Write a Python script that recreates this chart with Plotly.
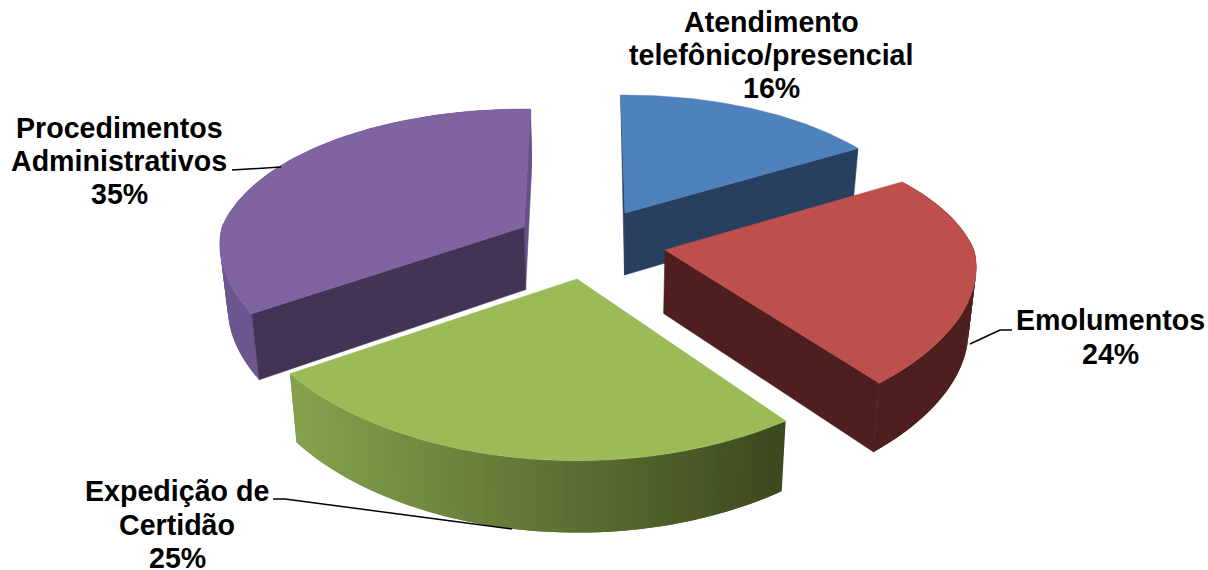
import math
import plotly.graph_objects as go

# ---- data ----
categories = ["Atendimento telefônico/presencial", "Emolumentos", "Expedição de Certidão", "Procedimentos Administrativos"]
shares = [16, 24, 25, 35]
top_colors = ["#4f81bd", "#bd4f4c", "#9bbb59", "#8064a2"]
face_colors = ["#27405f", "#4e1f1e", "#3d4a1f", "#433355"]
label_lines = [
    ["Atendimento", "telefônico/presencial", "16%"],
    ["Emolumentos", "24%"],
    ["Expedição de", "Certidão", "25%"],
    ["Procedimentos", "Administrativos", "35%"],
]

# ---- geometry / style of the projected pie ----
W, H = 1208, 570
APEX = [(625, 213), (665, 250), (577, 279), (524, 227)]
SLICE_RX = [296, 309, 328, 302]
START_ADJ = [-1, 0.4, 1, 3.5]
END_ADJ = [2.4, -3, 0.5, 1.5]
LABEL_POS = [(771, 22, 33), (1110, 320, 34), (177, 491, 33.5), (119, 128, 33)]
LEADERS = [None,
           [(970, 344), (1000, 330), (1012, 330)],
           [(273, 499), (285, 499), (512, 529)],
           [(232, 170), (250, 169), (281, 167)]]
A, K, KX_BACK, KX_FRONT = 143, 0.213, 0.2, 0.12
VX = 600
N = 90
GREEN_L, GREEN_R = (134, 162, 78), (60, 72, 30)
PURPLE_WALL = "#6d5690"
SLIVER = "#67508a"


def project(theta, ax, ay, rx):
    t = math.radians(theta)
    X, Y = math.sin(t), math.cos(t)
    kx = KX_BACK if Y > 0 else KX_FRONT
    return ax + rx * X / (1 + kx * Y), ay - A * Y / (1 + K * Y)


def drop(p):
    x, y = p
    return x + (VX - x) * 0.021, y + 62 + (y - 213) * 0.04


def lerp(c1, c2, f):
    return "rgb(%d,%d,%d)" % tuple(round(a + (b - a) * f) for a, b in zip(c1, c2))


def poly(fig, pts, color, lw=0.6):
    fig.add_trace(go.Scatter(
        x=[p[0] for p in pts] + [pts[0][0]], y=[p[1] for p in pts] + [pts[0][1]],
        mode="lines", fill="toself", fillcolor=color,
        line=dict(color=color, width=lw), hoverinfo="skip", showlegend=False))


fig = go.Figure()

# slice angles from the shares
starts, acc = [], 0.0
for v in shares:
    starts.append(acc)
    acc += v * 3.6

for i in [0, 3, 1, 2]:
    a0 = starts[i] + START_ADJ[i]
    a1 = starts[i] + shares[i] * 3.6 + END_ADJ[i]
    ax, ay = APEX[i]
    arc = [project(a0 + (a1 - a0) * j / N, ax, ay, SLICE_RX[i]) for j in range(N + 1)]
    apex = (ax, ay)
    # outer wall (the first slice's wall faces away and stays hidden)
    if i != 0:
        for j in range(N):
            p, q = arc[j], arc[min(j + 2, N)]
            if i == 2:
                f = ((arc[j][0] + arc[j + 1][0]) / 2 - 288) / 500
                poly(fig, [p, q, drop(q), drop(p)], lerp(GREEN_L, GREEN_R, max(0.0, min(1.0, f))), 0)
            else:
                poly(fig, [p, q, drop(q), drop(p)], PURPLE_WALL if i == 3 else face_colors[i], 0)
    # cut faces
    cut = face_colors[i]
    if i == 3:
        poly(fig, [arc[-1], (arc[-1][0] + 1, arc[-1][1] + 60), drop(apex), apex], SLIVER)
        poly(fig, [apex, arc[0], drop(arc[0]), drop(apex)], cut)
    elif i == 0:
        poly(fig, [arc[0], drop(apex), apex], cut)
        poly(fig, [apex, arc[-1], drop(arc[-1]), drop(apex)], cut)
    elif i == 1:
        poly(fig, [apex, arc[-1], drop(arc[-1]), drop(apex)], cut)
    # top face
    poly(fig, [apex] + arc, top_colors[i])

# leader lines and labels
for pts in LEADERS:
    if pts:
        fig.add_trace(go.Scatter(x=[p[0] for p in pts], y=[p[1] for p in pts], mode="lines",
                                 line=dict(color="#000000", width=1.5), hoverinfo="skip", showlegend=False))

for lines, (cx, cy, dy) in zip(label_lines, LABEL_POS):
    for n, line in enumerate(lines):
        fig.add_annotation(x=cx, y=cy + n * dy, xref="x", yref="y", text="<b>%s</b>" % line,
                           showarrow=False, xanchor="center", yanchor="middle",
                           font=dict(family="Liberation Sans", size=28.6, color="#000000"))

fig.update_layout(
    width=W, height=H, margin=dict(l=0, r=0, t=0, b=0),
    paper_bgcolor="#ffffff", plot_bgcolor="#ffffff", showlegend=False,
    xaxis=dict(range=[0, W], visible=False, fixedrange=True),
    yaxis=dict(range=[H, 0], visible=False, fixedrange=True),
)
fig.write_html("out.html", config={"displayModeBar": False},
               post_script="document.body.style.margin='0';document.body.style.overflow='hidden';")
